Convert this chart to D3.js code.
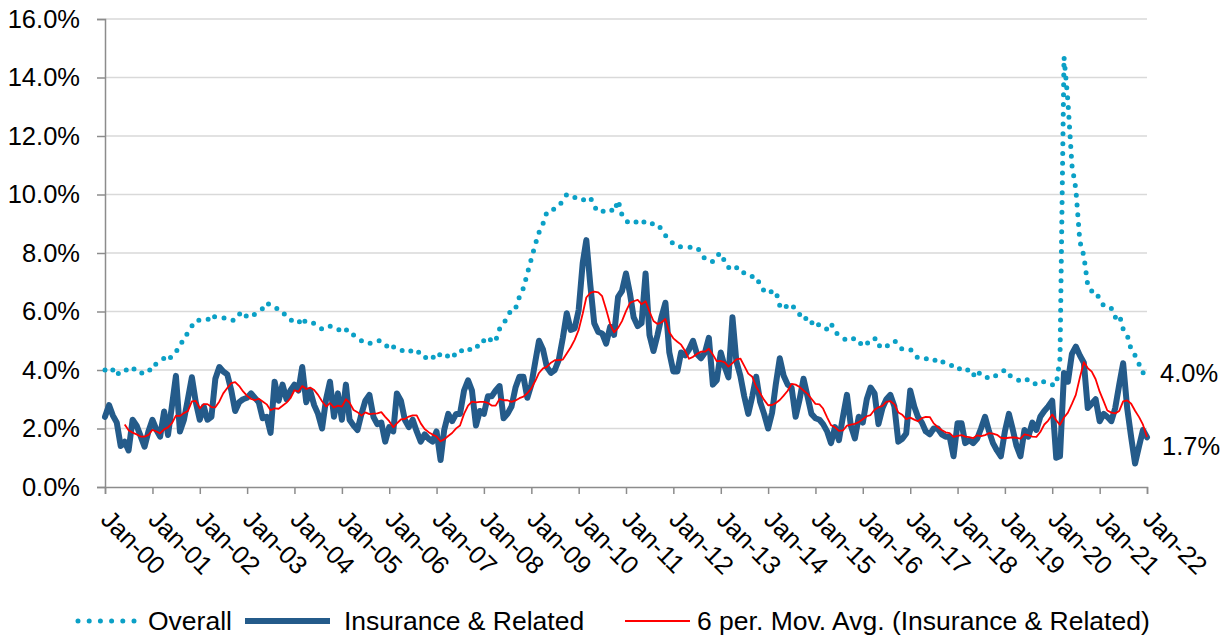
<!DOCTYPE html>
<html lang="en">
<head>
<meta charset="UTF-8">
<script src="https://cdn.jsdelivr.net/npm/d3@7"></script>
<title>Unemployment rate</title>
<style>
  body { margin: 0; background: #fff; }
  text { font-family: "Liberation Sans", Arial, sans-serif; fill: #000; }
</style>
</head>
<body>
<svg width="1231" height="639"></svg>
<script>
// monthly data, Jan-00 .. Jan-22
var firstMonth = new Date(2000, 0, 1);

var overall = [
  4.0, 4.1, 4.0, 3.8, 4.0, 4.0, 4.0, 4.1, 3.9, 3.9, 3.9, 3.9,
  4.2, 4.2, 4.3, 4.4, 4.3, 4.5, 4.6, 4.9, 5.0, 5.3, 5.5, 5.7,
  5.7, 5.7, 5.7, 5.9, 5.8, 5.8, 5.8, 5.7, 5.7, 5.7, 5.9, 6.0,
  5.8, 5.9, 5.9, 6.0, 6.1, 6.3, 6.2, 6.1, 6.1, 6.0, 5.8, 5.7,
  5.7, 5.6, 5.8, 5.6, 5.6, 5.6, 5.5, 5.4, 5.4, 5.5, 5.4, 5.4,
  5.3, 5.4, 5.2, 5.2, 5.1, 5.0, 5.0, 4.9, 5.0, 5.0, 5.0, 4.9,
  4.7, 4.8, 4.7, 4.7, 4.6, 4.6, 4.7, 4.7, 4.5, 4.4, 4.5, 4.4,
  4.6, 4.5, 4.4, 4.5, 4.4, 4.6, 4.7, 4.6, 4.7, 4.7, 4.7, 5.0,
  5.0, 4.9, 5.1, 5.0, 5.4, 5.6, 5.8, 6.1, 6.1, 6.5, 6.8, 7.3,
  7.8, 8.3, 8.7, 9.0, 9.4, 9.5, 9.5, 9.6, 9.8, 10.0, 9.9, 9.9,
  9.8, 9.8, 9.9, 9.9, 9.6, 9.4, 9.4, 9.5, 9.5, 9.4, 9.8, 9.3,
  9.1, 9.0, 9.0, 9.1, 9.0, 9.1, 9.0, 9.0, 9.0, 8.8, 8.6, 8.5,
  8.3, 8.3, 8.2, 8.2, 8.2, 8.2, 8.2, 8.0, 7.8, 7.8, 7.7, 7.9,
  8.0, 7.7, 7.5, 7.6, 7.5, 7.5, 7.3, 7.2, 7.2, 7.2, 6.9, 6.7,
  6.6, 6.7, 6.7, 6.2, 6.3, 6.1, 6.2, 6.1, 5.9, 5.7, 5.8, 5.6,
  5.7, 5.5, 5.4, 5.4, 5.6, 5.3, 5.2, 5.1, 5.0, 5.0, 5.1, 5.0,
  4.8, 4.9, 5.0, 5.1, 4.8, 4.9, 4.8, 4.9, 5.0, 4.9, 4.7, 4.7,
  4.7, 4.6, 4.4, 4.4, 4.4, 4.3, 4.3, 4.4, 4.3, 4.2, 4.2, 4.1,
  4.0, 4.1, 4.0, 4.0, 3.8, 4.0, 3.8, 3.8, 3.7, 3.8, 3.8, 3.9,
  4.0, 3.8, 3.8, 3.7, 3.6, 3.6, 3.7, 3.6, 3.5, 3.6, 3.6, 3.6,
  3.5, 3.5, 4.4, 14.7, 13.2, 11.0, 10.2, 8.4, 7.9, 6.9, 6.7, 6.7,
  6.4, 6.2, 6.1, 6.1, 5.8, 5.9, 5.4, 5.2, 4.7, 4.5, 4.2, 3.9,
  4.0
];

var insurance = [
  2.4, 2.8, 2.45, 2.2, 1.4, 1.55, 1.25, 2.3, 2.1, 1.75, 1.38, 1.9,
  2.3, 1.95, 1.72, 2.58, 1.78, 2.8, 3.8, 1.9, 2.3, 3.0, 3.75, 2.9,
  2.3, 2.75, 2.3, 2.4, 3.7, 4.1, 3.95, 3.85, 3.3, 2.6, 2.9, 3.0,
  3.05, 3.2, 3.05, 2.9, 2.35, 2.4, 1.85, 3.6, 2.95, 3.5, 3.0, 3.3,
  3.5, 3.3, 4.1, 2.9, 3.3, 2.8, 2.5, 2.0, 3.0, 3.6, 2.4, 3.2,
  2.3, 3.5, 2.3, 2.1, 1.95, 2.5, 2.95, 3.15, 2.4, 2.15, 2.2, 1.55,
  2.05, 1.9, 3.2, 2.95, 2.3, 2.05, 2.3, 1.9, 1.55, 1.8, 1.65, 1.55,
  1.9, 0.92, 1.95, 2.5, 2.25, 2.5, 2.5, 3.3, 3.65, 3.3, 2.1, 2.6,
  2.5, 3.1, 3.1, 3.3, 3.45, 2.35, 2.5, 2.75, 3.4, 3.77, 3.77, 3.05,
  3.5, 4.3, 5.0, 4.7, 4.1, 3.9, 4.0, 4.35, 5.1, 5.94, 5.37, 5.42,
  6.05, 7.65, 8.44, 6.9, 5.6, 5.3, 5.25, 4.9, 5.48, 5.2, 6.5, 6.7,
  7.3, 6.6, 5.8, 5.5, 5.6, 7.3, 5.2, 4.65, 5.2, 5.8, 6.3, 4.6,
  3.95, 3.95, 4.6, 4.5, 4.7, 5.0, 4.55, 4.4, 4.6, 5.1, 3.5, 3.65,
  4.6, 4.1, 3.75, 5.8, 4.3, 3.8, 3.1, 2.5, 3.1, 3.77, 2.9, 2.5,
  2.0, 2.55, 3.5, 4.4, 3.8, 3.5, 3.4, 2.4, 3.0, 3.7, 3.1, 2.5,
  2.35, 2.3, 2.15, 1.9, 1.5, 2.05, 1.6, 2.4, 3.15, 2.1, 1.66, 2.4,
  2.2, 3.0, 3.4, 3.2, 2.15, 2.7, 3.0, 3.15, 2.75, 1.55, 1.65, 1.83,
  3.3, 2.75, 2.4, 2.2, 1.9, 1.8, 2.0, 2.0, 1.8, 1.72, 1.72, 1.05,
  2.18, 2.18, 1.5, 1.6, 1.5, 1.65, 2.0, 2.4, 1.9, 1.5, 1.25, 1.05,
  1.9, 2.5, 2.0, 1.4, 1.05, 1.95, 1.72, 2.2, 1.95, 2.4, 2.6, 2.75,
  2.95, 1.0, 1.05, 3.9, 3.6, 4.55, 4.8, 4.5, 4.25, 2.7, 2.85, 3.0,
  2.25, 2.5, 2.4, 2.25, 2.7, 3.5, 4.23, 2.7, 1.7, 0.8, 1.4, 1.95,
  1.7
];

var yTicks = [0, 2, 4, 6, 8, 10, 12, 14, 16];
var endLabels = ["4.0%", "1.7%"];
var seriesNames = ["Overall", "Insurance & Related", "6 per. Mov. Avg. (Insurance & Related)"];

var svg = d3.select("svg");
var plotLeft = 105, plotRight = 1147, plotTop = 19, plotBottom = 487;

var months = overall.map(function(d, i) { return d3.timeMonth.offset(firstMonth, i); });

// 6 period trailing moving average of the insurance series
var movAvg = insurance.map(function(d, i) {
  return i < 5 ? null : d3.mean(insurance.slice(i - 5, i + 1));
});

var x = d3.scaleTime().domain([months[0], months[months.length - 1]]).range([plotLeft, plotRight]);
var y = d3.scaleLinear().domain([0, 16]).range([plotBottom, plotTop]);

// gridlines
svg.append("g").selectAll("line")
  .data(yTicks.slice(1))
  .enter().append("line")
  .attr("x1", plotLeft).attr("x2", plotRight)
  .attr("y1", function(d) { return y(d); }).attr("y2", function(d) { return y(d); })
  .attr("stroke", "#d9d9d9").attr("stroke-width", 1.5);

// y axis
var yAxis = svg.append("g")
  .attr("transform", "translate(" + plotLeft + ",0)")
  .call(d3.axisLeft(y).tickValues(yTicks).tickSize(8).tickPadding(17)
    .tickFormat(function(d) { return d.toFixed(1) + "%"; }));
yAxis.selectAll("path, line").attr("stroke", "#8c8c8c").attr("stroke-width", 1.5);
yAxis.selectAll("text").attr("font-size", 25.5).attr("font-family", null);

// x axis
var xAxis = svg.append("g")
  .attr("transform", "translate(0," + plotBottom + ")")
  .call(d3.axisBottom(x).ticks(d3.timeYear.every(1)).tickSize(7)
    .tickFormat(d3.timeFormat("%b-%y")));
xAxis.selectAll("path, line").attr("stroke", "#8c8c8c").attr("stroke-width", 1.5);
xAxis.selectAll("text")
  .attr("font-size", 25.5).attr("font-family", null)
  .attr("text-anchor", "start")
  .attr("x", 0).attr("y", 0).attr("dy", 0)
  .attr("transform", "translate(-6,34) rotate(45)");

var line = d3.line()
  .defined(function(d) { return d != null; })
  .x(function(d, i) { return x(months[i]); })
  .y(function(d) { return y(d); });

// series
svg.append("path")
  .attr("d", line(overall))
  .attr("fill", "none")
  .attr("stroke", "#0ba0c6")
  .attr("stroke-width", 5)
  .attr("stroke-linecap", "round")
  .attr("stroke-dasharray", "0 9.8");

svg.append("path")
  .attr("d", line(insurance))
  .attr("fill", "none")
  .attr("stroke", "#245b8a")
  .attr("stroke-width", 6)
  .attr("stroke-linejoin", "round")
  .attr("stroke-linecap", "round");

svg.append("path")
  .attr("d", line(movAvg))
  .attr("fill", "none")
  .attr("stroke", "#ff0000")
  .attr("stroke-width", 1.8)
  .attr("stroke-linejoin", "round");

// end labels
svg.append("text").attr("x", 1160).attr("y", 382).attr("font-size", 25.5).text(endLabels[0]);
svg.append("text").attr("x", 1162).attr("y", 455).attr("font-size", 25.5).text(endLabels[1]);

// legend
var legend = svg.append("g").attr("transform", "translate(0,621)");
legend.append("line").attr("x1", 78).attr("x2", 135)
  .attr("stroke", "#0ba0c6").attr("stroke-width", 5)
  .attr("stroke-linecap", "round").attr("stroke-dasharray", "0 11.2");
legend.append("line").attr("x1", 245).attr("x2", 330)
  .attr("stroke", "#245b8a").attr("stroke-width", 6);
legend.append("line").attr("x1", 625).attr("x2", 690)
  .attr("stroke", "#ff0000").attr("stroke-width", 1.8);
legend.selectAll("text.name")
  .data(seriesNames)
  .enter().append("text")
  .attr("class", "name")
  .attr("x", function(d, i) { return [148, 344, 697][i]; })
  .attr("y", 9)
  .attr("font-size", 26.5)
  .text(function(d) { return d; });
</script>
</body>
</html>
